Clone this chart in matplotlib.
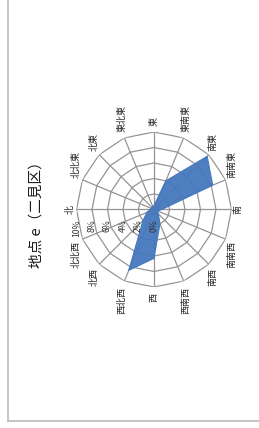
import numpy as np
import matplotlib
matplotlib.use('Agg')
import matplotlib.pyplot as plt
from matplotlib.lines import Line2D

plt.rcParams['font.family'] = ['Noto Sans CJK JP', 'DejaVu Sans']

# wind direction frequency (%) for 16 directions, clockwise from north
directions = ['北', '北北東', '北東', '東北東', '東', '東南東', '南東', '南南東',
              '南', '南南西', '南西', '西南西', '西', '西北西', '北西', '北北西']
freq = [0.5, 0.4, 0.4, 0.4, 0.5, 4.0, 9.7, 8.2,
        1.0, 0.5, 0.8, 2.0, 6.3, 8.5, 2.0, 1.0]
rings = [0, 2, 4, 6, 8, 10]
ring_labels = ['0%', '2%', '4%', '6%', '8%', '10%']
title = '地点 e（二見区）'

W, H = 259, 428
fig = plt.figure(figsize=(W / 100, H / 100), dpi=100)

# chart-area frame (only left and bottom edges fall inside the picture)
fig.add_artist(Line2D([7.5 / W, 7.5 / W], [1 - 420.5 / H, 1.0], color='#c0c0c0', lw=1.3))
fig.add_artist(Line2D([7.5 / W, 1.0], [1 - 420.5 / H, 1 - 420.5 / H], color='#c0c0c0', lw=1.3))

cx, cy, R = 154, 209.5, 77.5
ax = fig.add_axes([(cx - R) / W, (H - cy - R) / H, 2 * R / W, 2 * R / H], projection='polar')
ax.set_theta_zero_location('W')   # chart is turned: north on the left
ax.set_theta_direction(-1)
ax.set_ylim(0, 10)
ax.grid(False)
ax.set_xticks([])
ax.set_yticks([])
ax.spines['polar'].set_visible(False)
ax.patch.set_alpha(0)

n = len(directions)
theta = np.arange(n) * 2 * np.pi / n
tc = np.append(theta, theta[0])

grid_c = '#949494'
vals = np.append(freq, freq[0])
ax.fill(tc, vals, color='#4678be', alpha=0.95, zorder=2, lw=0)
ax.plot(tc, vals, color='#4678be', lw=0.8, zorder=2)

for r in rings[1:]:
    ax.plot(tc, [r] * (n + 1), color=grid_c, lw=0.9, zorder=1)
for t in theta:
    ax.plot([t, t], [0, 10], color=grid_c, lw=0.9, zorder=1)

# category labels (text turned 90 degrees like the chart)
px2pt = 72 / 100
d = 84
for i, (t, lab) in enumerate(zip(theta, directions)):
    phi = np.pi - t
    dx, dy = np.cos(phi), np.sin(phi)
    b = 4.3 * len(lab)
    sy = np.sign(dy) if abs(dy) > 0.2 else dy / 0.2
    ox = d * dx
    oy = d * dy + b * sy
    ax.annotate(lab, xy=(0, 0), xytext=(ox * px2pt, oy * px2pt), textcoords='offset points',
                ha='center', va='center', rotation=90, fontsize=6.5, color='#262626',
                annotation_clip=False)

# radial axis labels along the north spoke
for r, lab in zip(rings, ring_labels):
    ax.annotate(lab, xy=(0, r), xytext=(0, -10 * px2pt), textcoords='offset points',
                ha='center', va='top', rotation=90, fontsize=6.2, color='#333333',
                annotation_clip=False)

fig.text(37 / W, 1 - 211 / H, title, rotation=90, ha='center', va='center',
         fontsize=10.5, color='#1a1a1a')

fig.savefig('out.png', dpi=100)
